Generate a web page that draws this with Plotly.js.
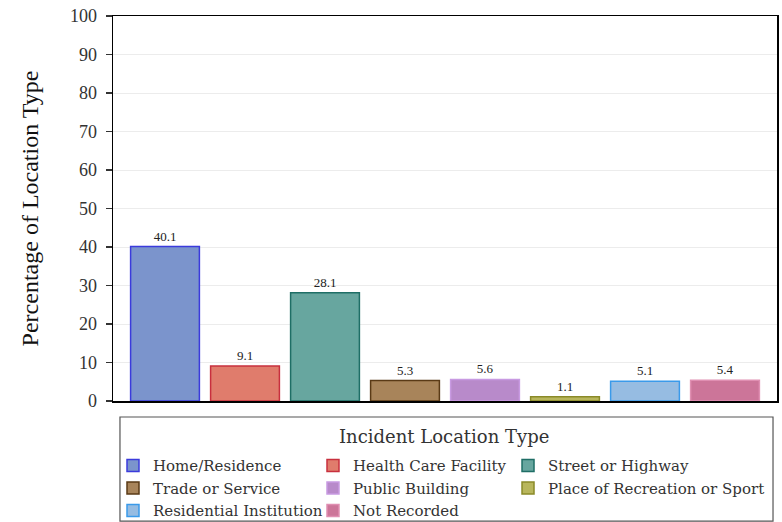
<!DOCTYPE html>
<html>
<head>
<meta charset="utf-8">
<script src="https://cdn.plot.ly/plotly-3.0.1.min.js"></script>
<style>html,body{margin:0;padding:0;background:#fff;}#chart{width:782px;height:522px;}</style>
</head>
<body>
<div id="chart"></div>
<script>
const categories = ["Home/Residence", "Health Care Facility", "Street or Highway", "Trade or Service", "Public Building", "Place of Recreation or Sport", "Residential Institution", "Not Recorded"];
const percentages = [40.1, 9.1, 28.1, 5.3, 5.6, 1.1, 5.1, 5.4];
const yTicks = [0, 10, 20, 30, 40, 50, 60, 70, 80, 90, 100];
const fillColors = ["#7b94cc", "#e07c6c", "#67a69f", "#a8845a", "#b88aca", "#b8b65c", "#96bce2", "#cc7599"];
const lineColors = ["#3b3bdc", "#c8303e", "#1f6e66", "#5a3a16", "#c89ae2", "#8a8a28", "#3a9aea", "#e08fb2"];
// legend column for each category (row-major, 3 columns)
const legendIds = ["legend", "legend2", "legend3", "legend", "legend2", "legend3", "legend", "legend2"];

const traces = categories.map((c, i) => ({
  type: "bar",
  name: c,
  x: [i],
  y: [percentages[i]],
  width: 0.86,
  legend: legendIds[i],
  marker: {color: fillColors[i], line: {color: lineColors[i], width: 1.5}},
  text: [percentages[i].toFixed(1)],
  textposition: "outside",
  textfont: {family: "Liberation Serif", size: 13, color: "#222"},
  cliponaxis: false,
  hoverinfo: "name+y"
}));

const legFont = {family: "DejaVu Serif", size: 15, color: "#333"};
function legendAt(x) {
  return {
    orientation: "v", x: x, xanchor: "left", y: -0.125, yanchor: "top",
    itemwidth: 30, traceorder: "normal", bgcolor: "rgba(0,0,0,0)", borderwidth: 0,
    font: legFont, tracegroupgap: 0
  };
}

const layout = {
  width: 782, height: 522,
  margin: {l: 113, r: 5, t: 16, b: 121, autoexpand: false},
  paper_bgcolor: "#fff", plot_bgcolor: "#fff",
  barmode: "overlay",
  showlegend: true,
  font: {family: "Liberation Serif", color: "#222"},
  xaxis: {
    range: [-0.65, 7.65], showticklabels: false, ticks: "", showgrid: false,
    zeroline: false, showline: true, linecolor: "#000", linewidth: 1.5, mirror: true, fixedrange: true
  },
  yaxis: {
    range: [0, 100], tickvals: yTicks, ticktext: yTicks.map(String),
    ticks: "outside", ticklen: 6, tickcolor: "#333", tickwidth: 1.2,
    ticklabelstandoff: 5,
    tickfont: {family: "Liberation Serif", size: 18, color: "#333"},
    showgrid: true, gridcolor: "#ececec", gridwidth: 1,
    zeroline: false, showline: true, linecolor: "#000", linewidth: 1.5, mirror: true,
    title: {text: "Percentage of Location Type", font: {family: "Liberation Serif", size: 24, color: "#111"}, standoff: 24}
  },
  legend: legendAt(0.0),
  legend2: legendAt(0.3012),
  legend3: legendAt(0.5949),
  annotations: [{
    text: "Incident Location Type", xref: "paper", yref: "paper",
    x: 0.4985, y: -0.0935, xanchor: "center", yanchor: "middle", showarrow: false,
    font: {family: "DejaVu Serif", size: 18, color: "#333"}
  }],
  shapes: [{
    type: "rect", xref: "paper", yref: "paper",
    x0: 0.0105, x1: 0.994, y0: -0.0416, y1: -0.312,
    line: {color: "#555", width: 1.2}, fillcolor: "rgba(0,0,0,0)"
  }]
};

Plotly.newPlot("chart", traces, layout, {displayModeBar: false, staticPlot: true});
</script>
</body>
</html>
